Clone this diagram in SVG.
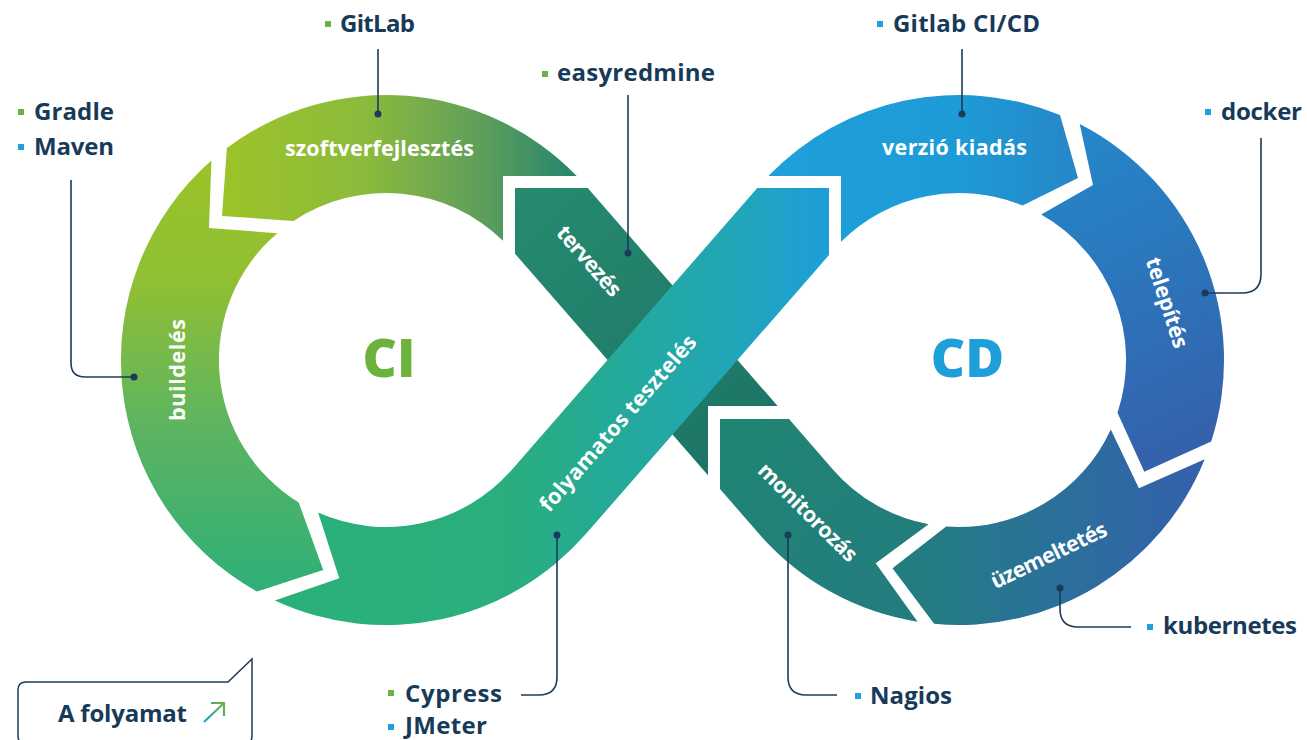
<svg xmlns="http://www.w3.org/2000/svg" width="1307" height="740" viewBox="0 0 1307 740">
<defs>
<style>
.lbl{font-family:"Open Sans","Liberation Sans",sans-serif;font-weight:700;font-size:24px;fill:#173a59}
.seg{font-family:"Open Sans","Liberation Sans",sans-serif;font-weight:700;font-size:21.5px;fill:#ffffff}
.big{font-family:"Open Sans","Liberation Sans",sans-serif;font-weight:800;font-size:53px}
.conn{fill:none;stroke:#1c3b5a;stroke-width:1.6}
.dot{fill:#1c3b5a}
.sqg{fill:#6db33f}
.sqb{fill:#1e9fd9}
</style>
<linearGradient id="gS" gradientUnits="userSpaceOnUse" x1="220" y1="0" x2="585" y2="0">
<stop offset="0" stop-color="#9cc427"/><stop offset="0.4" stop-color="#8cba3c"/><stop offset="0.72" stop-color="#5e9e5c"/><stop offset="1" stop-color="#1e836f"/>
</linearGradient>
<linearGradient id="gB" gradientUnits="userSpaceOnUse" x1="0" y1="150" x2="0" y2="600">
<stop offset="0" stop-color="#9bc326"/><stop offset="0.3" stop-color="#8fbf34"/><stop offset="0.62" stop-color="#5cb462"/><stop offset="1" stop-color="#2caf79"/>
</linearGradient>
<linearGradient id="gF" gradientUnits="userSpaceOnUse" x1="300" y1="0" x2="835" y2="0">
<stop offset="0" stop-color="#2bb07a"/><stop offset="0.38" stop-color="#2aae7c"/><stop offset="0.6" stop-color="#24a99b"/><stop offset="0.8" stop-color="#21a6b6"/><stop offset="1" stop-color="#1d9edc"/>
</linearGradient>
<linearGradient id="gT" gradientUnits="userSpaceOnUse" x1="515" y1="188" x2="780" y2="470">
<stop offset="0" stop-color="#278a70"/><stop offset="1" stop-color="#1b7265"/>
</linearGradient>
<linearGradient id="gM" gradientUnits="userSpaceOnUse" x1="720" y1="420" x2="925" y2="620">
<stop offset="0" stop-color="#208571"/><stop offset="1" stop-color="#237b80"/>
</linearGradient>
<linearGradient id="gU" gradientUnits="userSpaceOnUse" x1="890" y1="0" x2="1205" y2="0">
<stop offset="0" stop-color="#217f7b"/><stop offset="0.5" stop-color="#2a7199"/><stop offset="1" stop-color="#3460ac"/>
</linearGradient>
<linearGradient id="gP" gradientUnits="userSpaceOnUse" x1="1050" y1="120" x2="1210" y2="450">
<stop offset="0" stop-color="#2389cb"/><stop offset="1" stop-color="#3560aa"/>
</linearGradient>
<linearGradient id="gV" gradientUnits="userSpaceOnUse" x1="770" y1="0" x2="1080" y2="0">
<stop offset="0" stop-color="#1ea0da"/><stop offset="0.6" stop-color="#1d9bd7"/><stop offset="1" stop-color="#2786c6"/>
</linearGradient>
<linearGradient id="gArr" gradientUnits="userSpaceOnUse" x1="204" y1="722" x2="224" y2="703">
<stop offset="0" stop-color="#1e9fd9"/><stop offset="1" stop-color="#6db33f"/>
</linearGradient>
</defs>
<rect width="1307" height="740" fill="#ffffff"/>

<g id="node-tervezes">
<path d="M515,188 L587.7,188 L777.6,406 L708,406 L708,475.2 L515,253.7 Z" fill="url(#gT)"/>
<text class="seg" transform="translate(583.5,266) rotate(48.9)" text-anchor="middle" textLength="86">tervezés</text>
</g>
<g id="node-monitorozas">
<path d="M720,419 L789,419 L833.1,469.7 A167,167 0 0 0 928.6,524.2 L875.7,563.3 L917.6,621.7 A265,265 0 0 1 759.2,534.1 L720,489 Z" fill="url(#gM)"/>
<text class="seg" transform="translate(802.6,517.6) rotate(44.8)" text-anchor="middle" textLength="130">monitorozás</text>
</g>
<g id="node-uzemeltetes">
<path d="M934.1,623.8 A265,265 0 0 0 1204.7,459.3 L1138.9,488.3 L1110.8,429.5 A167,167 0 0 1 946.2,526.5 L892.5,568.3 Z" fill="url(#gU)"/>
<text class="seg" transform="translate(1052,562) rotate(-25.6)" text-anchor="middle" textLength="126">üzemeltetés</text>
</g>
<g id="node-telepites">
<path d="M1079.7,124.1 A265,265 0 0 1 1211.2,441.5 L1144.3,471.7 L1117.5,412.7 A167,167 0 0 0 1041.2,214.6 L1093,185 Z" fill="url(#gP)"/>
<text class="seg" transform="translate(1160,305) rotate(72)" text-anchor="middle" textLength="94">telepítés</text>
</g>
<g id="node-verzio-kiadas">
<path d="M768.3,176 A265,265 0 0 1 1060,115 L1078,178 L1022.6,205.6 A167,167 0 0 0 841,241.8 L841,176 Z" fill="url(#gV)"/>
<text class="seg" x="954.5" y="155" text-anchor="middle" textLength="145">verzió kiadás</text>
</g>
<g id="node-szoftverfejlesztes">
<path d="M576.7,176 A265,265 0 0 0 226.9,148.1 L222,216 L293.6,220.9 A167,167 0 0 1 503,240.8 L503,176 Z" fill="url(#gS)"/>
<text class="seg" x="379.5" y="156" text-anchor="middle" textLength="189">szoftverfejlesztés</text>
</g>
<g id="node-buildeles">
<path d="M211.4,160.6 A265,265 0 0 0 257.1,591.6 L323.2,570 L298.7,502.4 A167,167 0 0 1 277.3,233.2 L209,228 Z" fill="url(#gB)"/>
<text class="seg" transform="translate(185,370) rotate(-90)" text-anchor="middle" textLength="102">buildelés</text>
</g>
<g id="node-folyamatos-teszteles">
<path d="M274.8,600.6 A265,265 0 0 0 585.8,534.1 L829,255 L829,188 L757.3,188 L511.9,469.7 A167,167 0 0 1 318.1,512.6 L339.3,578.3 Z" fill="url(#gF)"/>
<text class="seg" transform="translate(623.5,428) rotate(-48.9)" text-anchor="middle" textLength="226">folyamatos tesztelés</text>
</g>

<g id="title-ci"><text class="big" x="389" y="377" text-anchor="middle" fill="#6cb33e">CI</text></g>
<g id="title-cd"><text class="big" x="967.5" y="377" text-anchor="middle" fill="#1e9fd9">CD</text></g>

<g id="connectors">
<path class="conn" d="M378,49 V114"/><circle class="dot" cx="378" cy="114" r="3.5"/>
<path class="conn" d="M71,180 V363 Q71,377 85,377 H134"/><circle class="dot" cx="134" cy="377" r="3.5"/>
<path class="conn" d="M628,95 V253"/><circle class="dot" cx="628" cy="253" r="3.5"/>
<path class="conn" d="M962,49 V114"/><circle class="dot" cx="962" cy="114" r="3.5"/>
<path class="conn" d="M1261,138 V274 Q1261,293 1242,293 H1205"/><circle class="dot" cx="1205" cy="293" r="3.5"/>
<path class="conn" d="M1060,588 V609 Q1060,627 1078,627 H1131"/><circle class="dot" cx="1060" cy="588" r="3.5"/>
<path class="conn" d="M788,535 V677 Q788,695 806,695 H837"/><circle class="dot" cx="788" cy="535" r="3.5"/>
<path class="conn" d="M557,535 V677 Q557,695 539,695 H521"/><circle class="dot" cx="557" cy="535" r="3.5"/>
</g>

<g id="tool-gitlab"><rect class="sqg" x="325" y="21" width="6" height="6"/><text class="lbl" x="340" y="32" textLength="75">GitLab</text></g>
<g id="tool-gradle"><rect class="sqg" x="18" y="109" width="6" height="6"/><text class="lbl" x="34" y="120" textLength="80">Gradle</text></g>
<g id="tool-maven"><rect class="sqb" x="18" y="144" width="6" height="6"/><text class="lbl" x="34" y="155" textLength="80">Maven</text></g>
<g id="tool-easyredmine"><rect class="sqg" x="542" y="71" width="6" height="6"/><text class="lbl" x="557" y="81" textLength="158">easyredmine</text></g>
<g id="tool-gitlab-cicd"><rect class="sqb" x="877" y="21" width="6" height="6"/><text class="lbl" x="893" y="32" textLength="147">Gitlab CI/CD</text></g>
<g id="tool-docker"><rect class="sqb" x="1205" y="109" width="6" height="6"/><text class="lbl" x="1221" y="120" textLength="81">docker</text></g>
<g id="tool-kubernetes"><rect class="sqb" x="1147" y="624" width="6" height="6"/><text class="lbl" x="1163" y="634" textLength="134">kubernetes</text></g>
<g id="tool-nagios"><rect class="sqb" x="855" y="693" width="6" height="6"/><text class="lbl" x="870" y="704" textLength="82">Nagios</text></g>
<g id="tool-cypress"><rect class="sqg" x="388" y="690" width="6" height="6"/><text class="lbl" x="405" y="702" textLength="97">Cypress</text></g>
<g id="tool-jmeter"><rect class="sqb" x="388" y="724" width="6" height="6"/><text class="lbl" x="405" y="734" textLength="82">JMeter</text></g>

<g id="box-a-folyamat">
<path d="M18,736 V690 Q18,682 26,682 H228 L252,659 V736 Q252,744 244,744 H26 Q18,744 18,736 Z" fill="none" stroke="#1c3b5a" stroke-width="1.5"/>
<text class="lbl" x="58" y="722" textLength="129">A folyamat</text>
<path d="M204,722 L224,703 M211,703 H224 V716" fill="none" stroke="url(#gArr)" stroke-width="2.2"/>
</g>
</svg>
